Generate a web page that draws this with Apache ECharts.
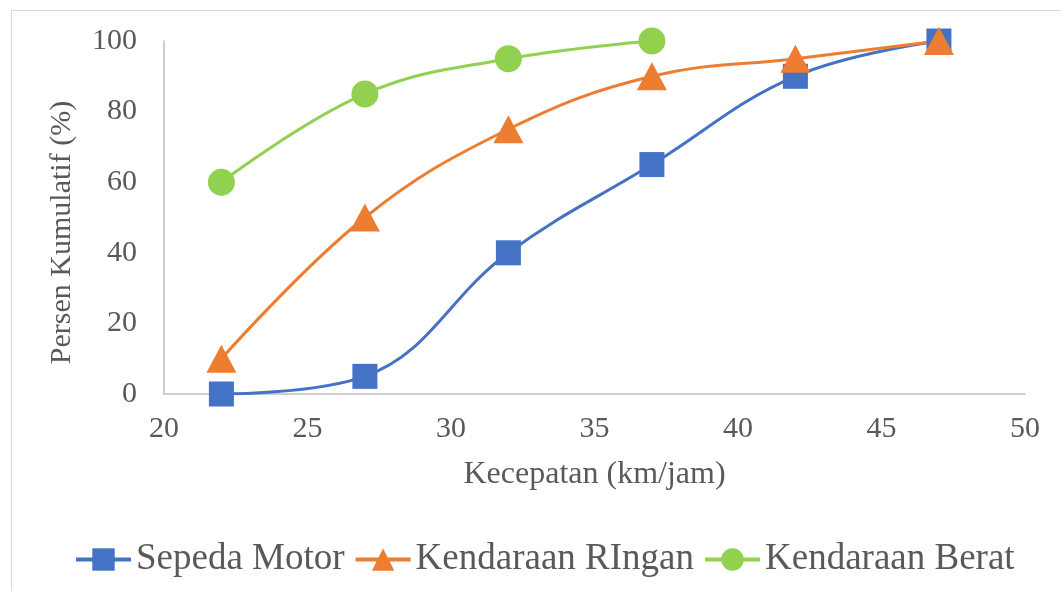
<!DOCTYPE html>
<html>
<head>
<meta charset="utf-8">
<script src="https://cdn.jsdelivr.net/npm/echarts@6/dist/echarts.min.js"></script>
<style>
  html, body { margin: 0; padding: 0; background: #fff; }
  #frame { position: absolute; left: 11px; top: 10px; width: 1100px; height: 640px; border: 1px solid #d9d9d9; }
  #chart { position: absolute; left: 0; top: 0; width: 1061px; height: 591px; }
</style>
</head>
<body>
<div id="frame"></div>
<div id="chart"></div>
<script>
var speeds = [22, 27, 32, 37, 42, 47];
var motor = [0, 5, 40, 65, 90, 100];
var ringan = [10, 50, 75, 90, 95, 100];
var berat = [60, 85, 95, 100];
var names = ["Sepeda Motor", "Kendaraan RIngan", "Kendaraan Berat"];

function pairs(xs, ys) {
    return ys.map((y, i) => [xs[i], y]);
}

var myChart = echarts.init(document.getElementById('chart'));
var font = '"Liberation Serif", "Times New Roman", serif';

myChart.setOption({
    animation: false,
    textStyle: { fontFamily: font },
    grid: { left: 164, right: 36, top: 41, bottom: 197 },
    legend: {
        data: names,
        bottom: 13,
        left: 74,
        padding: 0,
        itemWidth: 55,
        itemHeight: 28,
        itemGap: 9,
        lineStyle: { width: 4 },
        textStyle: { fontFamily: font, fontSize: 37, color: '#595959' }
    },
    xAxis: {
        type: 'value',
        min: 20, max: 50, interval: 5,
        name: 'Kecepatan (km/jam)',
        nameLocation: 'middle',
        nameGap: 65,
        nameTextStyle: { fontFamily: font, fontSize: 32, color: '#595959' },
        axisLine: { lineStyle: { color: '#bfbfbf', width: 1.5 } },
        axisTick: { show: false },
        splitLine: { show: false },
        axisLabel: { fontFamily: font, fontSize: 30, color: '#595959', margin: 20 }
    },
    yAxis: {
        type: 'value',
        min: 0, max: 100, interval: 20,
        name: 'Persen Kumulatif (%)',
        nameLocation: 'middle',
        nameGap: 87,
        nameTextStyle: { fontFamily: font, fontSize: 30, color: '#595959', padding: [0, 30, 0, 0] },
        axisLine: { show: true, lineStyle: { color: '#bfbfbf', width: 1.5 } },
        axisTick: { show: false },
        splitLine: { show: false },
        axisLabel: { fontFamily: font, fontSize: 30, color: '#595959', margin: 27 }
    },
    series: [{
        name: names[0],
        type: 'line',
        smooth: 0.4,
        symbol: 'rect',
        symbolSize: 25,
        color: '#4472C4',
        lineStyle: { width: 3 },
        data: pairs(speeds, motor)
    }, {
        name: names[1],
        type: 'line',
        smooth: 0.4,
        symbol: 'triangle',
        symbolSize: [30, 28],
        color: '#ED7D31',
        lineStyle: { width: 3 },
        data: pairs(speeds, ringan)
    }, {
        name: names[2],
        type: 'line',
        smooth: 0.4,
        symbol: 'circle',
        symbolSize: 27,
        color: '#92D050',
        lineStyle: { width: 3 },
        data: pairs(speeds, berat)
    }]
});
</script>
</body>
</html>
